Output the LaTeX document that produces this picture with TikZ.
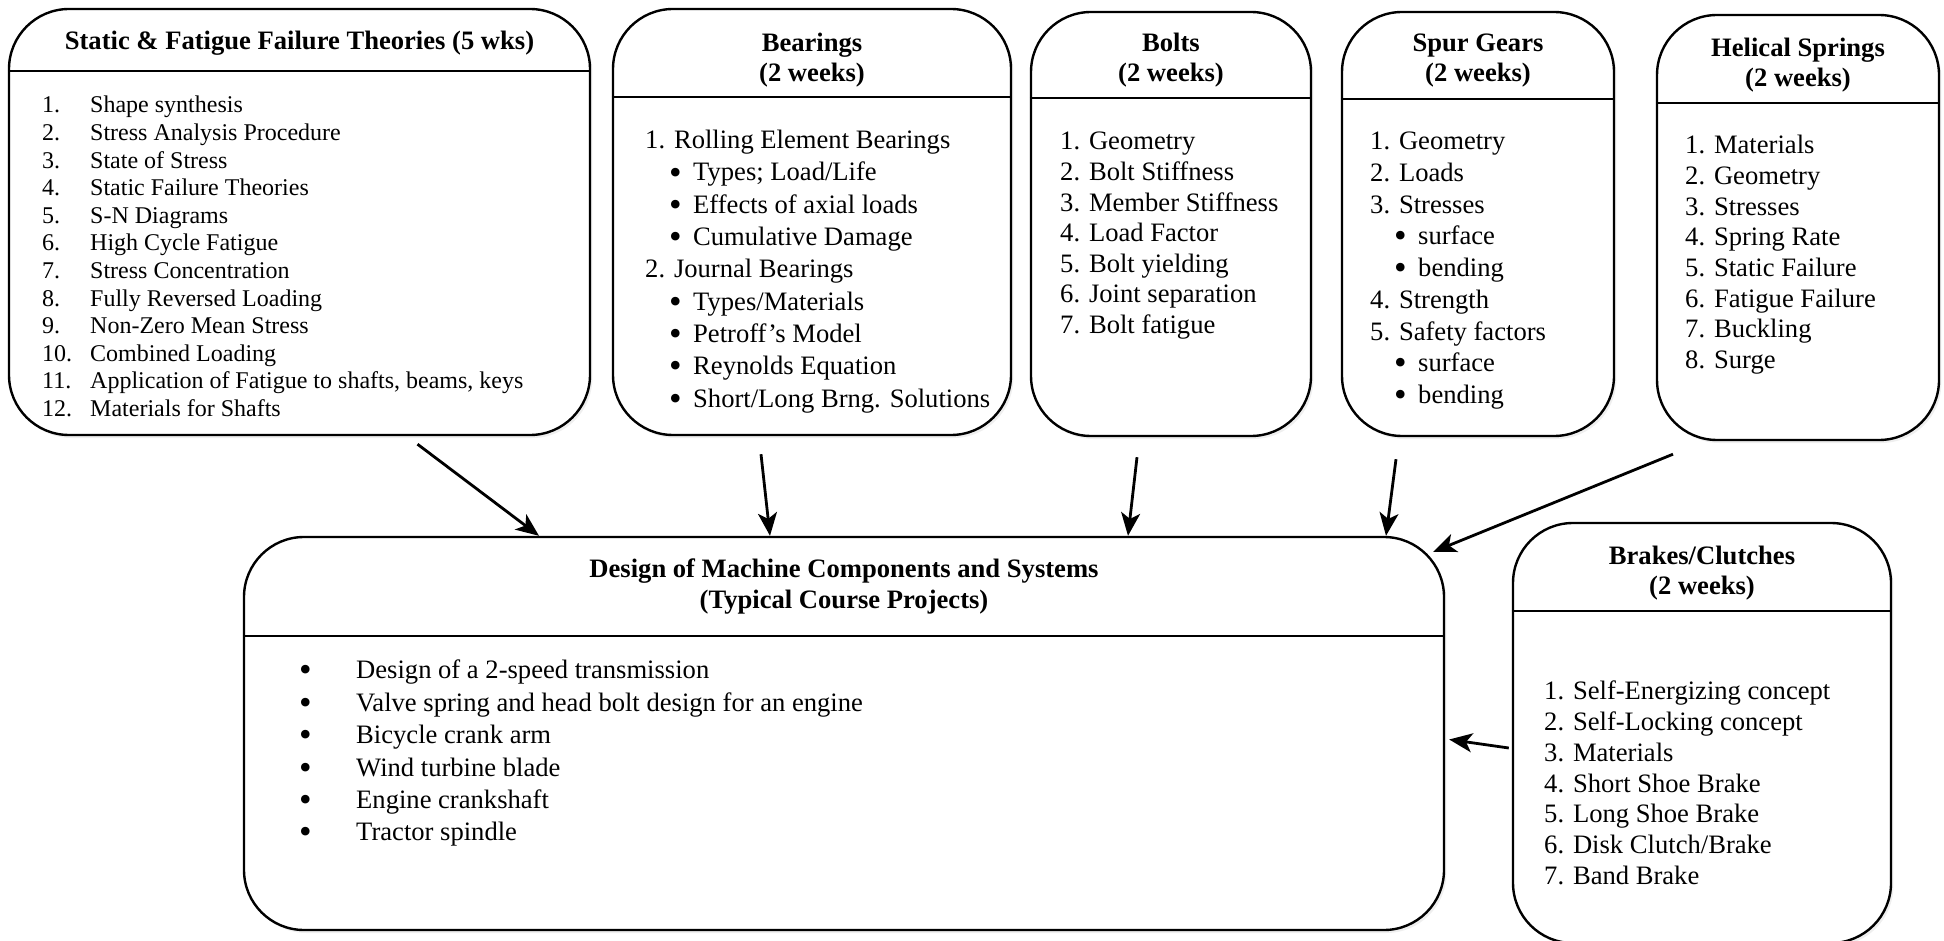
\documentclass[tikz,border=0pt]{standalone}
\usepackage{fontspec}
\setmainfont{Liberation Serif}
\usepackage{tikz}
\usetikzlibrary{arrows.meta}
\usetikzlibrary{positioning}
\usetikzlibrary{shadows}

\newcommand{\nm}[1]{\makebox[24pt][l]{#1}}
\newcommand{\bul}{\raisebox{-0.25ex}{\scalebox{1.35}{\textbullet}}}
\newcommand{\bl}{\hspace*{12pt}\makebox[12pt][l]{\bul}}
\newcommand{\dbl}{\makebox[28.5pt][l]{\bul}}

\begin{document}
\begin{tikzpicture}[x=0.5pt, y=-0.5pt, line width=1.2pt,
	topic/.style={rectangle, rounded corners=30pt, draw, fill=white, inner sep=0pt,
		drop shadow={shadow xshift=1.2pt, shadow yshift=-1.5pt, fill=black!12}},
	hd/.style={font=\fontsize{13.3}{15}\selectfont\bfseries, align=center, inner sep=0pt},
	lst/.style={anchor=north west, align=left, inner sep=0pt},
	flow/.style={-{Stealth[length=11.5pt, width=9.5pt, inset=3pt]}, line width=1.4pt},
]
\useasboundingbox (0,0) rectangle (1944,941);
% topic boxes
\node [topic, minimum width=290.5pt, minimum height=213pt] (SF) at (299.5,222) {};
\node [topic, minimum width=199pt,   minimum height=213pt] (BR) at (812,222)   {};
\node [topic, minimum width=140pt,   minimum height=212pt] (BO) at (1171,224)  {};
\node [topic, minimum width=136pt,   minimum height=212pt] (SG) at (1478,224)  {};
\node [topic, minimum width=141pt,   minimum height=212.5pt] (HS) at (1798,227.5) {};
\node [topic, minimum width=600pt,   minimum height=196.5pt] (DM) at (844,733.5) {};
\node [topic, minimum width=189pt,   minimum height=210pt] (BC) at (1702,733)  {};
%
\foreach \b/\d in {SF/31.5, BR/44.5, BO/43.5, SG/44, HS/44.5, DM/50, BC/44.5}
	\draw ([yshift=-\d pt]\b.north west) -- ([yshift=-\d pt]\b.north east);
% headings
\node [hd, below=11pt of SF.north]   (SFt) {Static \& Fatigue Failure Theories (5 wks)};
\node [hd, below=12pt of BR.north]   (BRt) {Bearings\\(2 weeks)};
\node [hd, below=10.5pt of BO.north] (BOt) {Bolts\\(2 weeks)};
\node [hd, below=11pt of SG.north]   (SGt) {Spur Gears\\(2 weeks)};
\node [hd, below=11.5pt of HS.north] (HSt) {Helical Springs\\(2 weeks)};
\node [hd, below=11pt of DM.north, font=\fontsize{13.3}{15.5}\selectfont\bfseries] (DMt)
	{Design of Machine Components and Systems\\(Typical Course Projects)};
\node [hd, below=11.5pt of BC.north] (BCt) {Brakes/Clutches\\(2 weeks)};
% contents
\node [lst, font=\fontsize{12}{13.8}\selectfont] (SFl) at (41,95) {%
	\nm{1.}Shape synthesis\\
	\nm{2.}Stress Analysis Procedure\\
	\nm{3.}State of Stress\\
	\nm{4.}Static Failure Theories\\
	\nm{5.}S-N Diagrams\\
	\nm{6.}High Cycle Fatigue\\
	\nm{7.}Stress Concentration\\
	\nm{8.}Fully Reversed Loading\\
	\nm{9.}Non-Zero Mean Stress\\
	\nm{10.}Combined Loading\\
	\nm{11.}Application of Fatigue to shafts, beams, keys\\
	\nm{12.}Materials for Shafts};
\node [lst, font=\fontsize{13.3}{16.15}\selectfont] (BRl) at (644,129) {%
	1. Rolling Element Bearings\\
	\bl Types; Load/Life\\
	\bl Effects of axial loads\\
	\bl Cumulative Damage\\
	2. Journal Bearings\\
	\bl Types/Materials\\
	\bl Petroff's Model\\
	\bl Reynolds Equation\\
	\bl Short/Long Brng. Solutions};
\node [lst, font=\fontsize{13.3}{15.3}\selectfont] (BOl) at (1059,131) {%
	1. Geometry\\
	2. Bolt Stiffness\\
	3. Member Stiffness\\
	4. Load Factor\\
	5. Bolt yielding\\
	6. Joint separation\\
	7. Bolt fatigue};
\node [lst, font=\fontsize{13.3}{15.85}\selectfont] (SGl) at (1369,131) {%
	1. Geometry\\
	2. Loads\\
	3. Stresses\\
	\bl surface\\
	\bl bending\\
	4. Strength\\
	5. Safety factors\\
	\bl surface\\
	\bl bending};
\node [lst, font=\fontsize{13.3}{15.35}\selectfont] (HSl) at (1684,134) {%
	1. Materials\\
	2. Geometry\\
	3. Stresses\\
	4. Spring Rate\\
	5. Static Failure\\
	6. Fatigue Failure\\
	7. Buckling\\
	8. Surge};
\node [lst, font=\fontsize{13.3}{16.2}\selectfont] (DMl) at (298,659) {%
	\dbl Design of a 2-speed transmission\\
	\dbl Valve spring and head bolt design for an engine\\
	\dbl Bicycle crank arm\\
	\dbl Wind turbine blade\\
	\dbl Engine crankshaft\\
	\dbl Tractor spindle};
\node [lst, font=\fontsize{13.3}{15.35}\selectfont] (BCl) at (1543,680) {%
	1. Self-Energizing concept\\
	2. Self-Locking concept\\
	3. Materials\\
	4. Short Shoe Brake\\
	5. Long Shoe Brake\\
	6. Disk Clutch/Brake\\
	7. Band Brake};
% arrows into the project box
\draw [flow] ([xshift=59pt, yshift=-4pt]SF.south)    -- ([xshift=-152.5pt]DM.north);
\draw [flow] ([xshift=-25.5pt, yshift=-9pt]BR.south) -- ([xshift=-37pt]DM.north);
\draw [flow] ([xshift=-17pt, yshift=-10pt]BO.south)  -- ([xshift=142pt]DM.north);
\draw [flow] ([xshift=-41pt, yshift=-11pt]SG.south)  -- ([xshift=271pt]DM.north);
\draw [flow] ([xshift=-62.5pt, yshift=-6.5pt]HS.south) -- ([xshift=-6pt, yshift=-8pt]DM.north east);
\draw [flow] ([xshift=-1.5pt, yshift=-7.5pt]BC.west) -- ([xshift=2pt, yshift=-3pt]DM.east);
\end{tikzpicture}
\end{document}
